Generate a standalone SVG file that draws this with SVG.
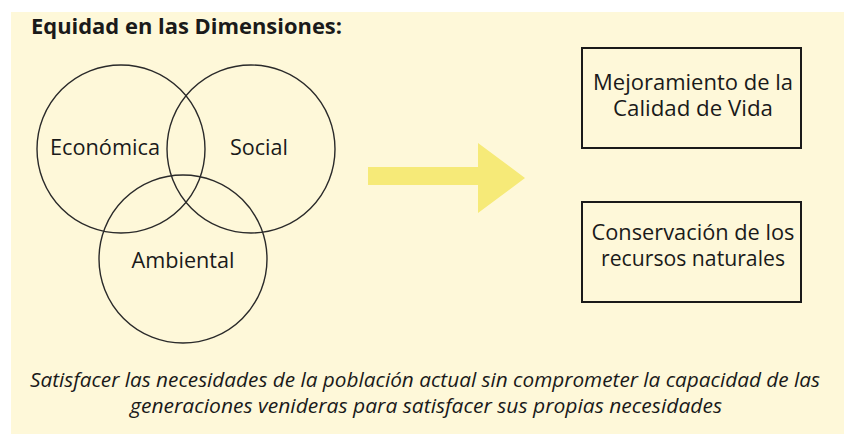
<svg xmlns="http://www.w3.org/2000/svg" width="844" height="434" viewBox="0 0 844 434">
<style>
.t{font-family:"Open Sans","Noto Sans","Liberation Sans",sans-serif;fill:#1a1a1a;}
.c{fill:none;stroke:#2a2a2a;stroke-width:1.4;}
.b{fill:none;stroke:#1a1a1a;stroke-width:2;}
.lbl{font-size:21px;text-anchor:middle;}
.it{font-size:20px;font-style:italic;text-anchor:middle;}
</style>
<rect x="11" y="12" width="833" height="422" fill="#fef8d9"/>
<text class="t" x="31" y="34" font-size="21" font-weight="bold" textLength="311" lengthAdjust="spacingAndGlyphs">Equidad en las Dimensiones:</text>
<g id="economica">
<circle class="c" cx="121" cy="149" r="84"/>
<text class="t lbl" x="105" y="155" textLength="110" lengthAdjust="spacingAndGlyphs">Económica</text>
</g>
<g id="social">
<circle class="c" cx="251" cy="149" r="84"/>
<text class="t lbl" x="259" y="155" textLength="58" lengthAdjust="spacingAndGlyphs">Social</text>
</g>
<g id="ambiental">
<circle class="c" cx="183" cy="259" r="84"/>
<text class="t lbl" x="183" y="268" textLength="103" lengthAdjust="spacingAndGlyphs">Ambiental</text>
</g>
<g id="connectors">
<polygon points="368,167 478,167 478,143 525,178 478,213 478,185 368,185" fill="#f6ea78"/>
</g>
<g id="calidad">
<rect class="b" x="582" y="48" width="219" height="100"/>
<text class="t lbl" x="693" y="90" textLength="200" lengthAdjust="spacingAndGlyphs">Mejoramiento de la</text>
<text class="t lbl" x="693" y="116" textLength="160" lengthAdjust="spacingAndGlyphs">Calidad de Vida</text>
</g>
<g id="conservacion">
<rect class="b" x="582" y="202" width="219" height="100"/>
<text class="t lbl" x="693" y="240" textLength="203" lengthAdjust="spacingAndGlyphs">Conservación de los</text>
<text class="t lbl" x="693" y="266" textLength="184" lengthAdjust="spacingAndGlyphs">recursos naturales</text>
</g>
<text class="t it" x="425" y="387" textLength="790" lengthAdjust="spacingAndGlyphs">Satisfacer las necesidades de la población actual sin comprometer la capacidad de las</text>
<text class="t it" x="426" y="413" textLength="592" lengthAdjust="spacingAndGlyphs">generaciones venideras para satisfacer sus propias necesidades</text>
</svg>
